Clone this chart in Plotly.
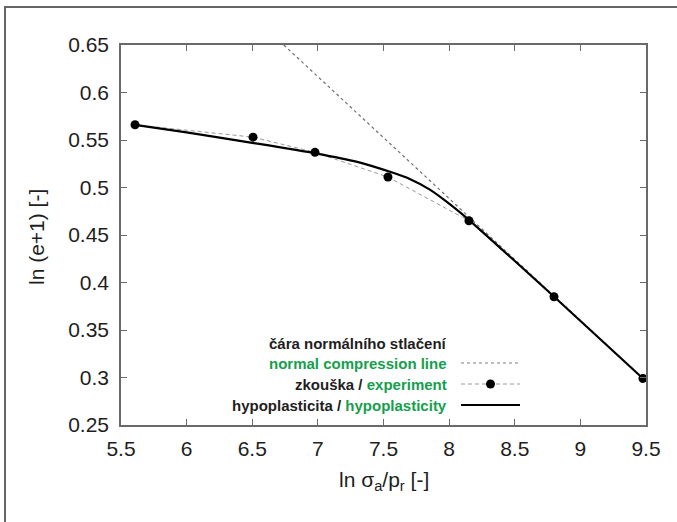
import plotly.graph_objects as go

# Oedometric test: ln(e+1) versus ln(sigma_a/p_r)
exp_x = [5.607, 6.506, 6.978, 7.534, 8.151, 8.799, 9.477]
exp_y = [0.566, 0.553, 0.537, 0.511, 0.465, 0.385, 0.299]

hypo_x = [5.607, 6.0, 6.5, 6.98, 7.3, 7.55, 7.7, 7.85, 8.0, 8.15, 8.8, 9.477]
hypo_y = [0.566, 0.558, 0.547, 0.536, 0.527, 0.5165, 0.509, 0.498, 0.483, 0.466, 0.385, 0.299]

ncl_x = [6.74, 9.5]
ncl_y = [0.65, 0.296]

x_ticks = [5.5, 6, 6.5, 7, 7.5, 8, 8.5, 9, 9.5]
y_ticks = [0.25, 0.3, 0.35, 0.4, 0.45, 0.5, 0.55, 0.6, 0.65]

GREEN = "#14a04c"
TXT = "#1e1e1e"
AX = "#6a6a6a"
FONT = "Liberation Sans, Arial, sans-serif"
EXP_DASH = "4px,3px"

fig = go.Figure()

fig.add_trace(go.Scatter(
    x=ncl_x, y=ncl_y, mode="lines",
    line=dict(color="#707070", width=1.2, dash="dot"),
    hoverinfo="skip", showlegend=False))

fig.add_trace(go.Scatter(
    x=exp_x, y=exp_y, mode="lines+markers",
    line=dict(color="#9a9a9a", width=1, dash=EXP_DASH),
    marker=dict(color="black", size=9),
    showlegend=False))

fig.add_trace(go.Scatter(
    x=hypo_x, y=hypo_y, mode="lines",
    line=dict(color="black", width=2.2, shape="spline", smoothing=0.6),
    showlegend=False))

axis_common = dict(
    showline=True, linecolor=AX, linewidth=1.5, mirror="ticks",
    ticks="inside", ticklen=6, tickcolor=AX, tickwidth=1.2,
    showgrid=False, zeroline=False,
    tickfont=dict(family=FONT, size=21, color=TXT),
)

fig.update_layout(
    width=677, height=522,
    margin=dict(l=121, r=31, t=45, b=97),
    paper_bgcolor="white", plot_bgcolor="white",
    xaxis=dict(range=[5.5, 9.5], tickvals=x_ticks,
               ticktext=[f"{v:g}" for v in x_ticks],
               ticklabelstandoff=4, **axis_common),
    yaxis=dict(range=[0.25, 0.65], tickvals=y_ticks,
               ticktext=[f"{v:g}" for v in y_ticks],
               ticklabelstandoff=6, **axis_common),
)


def px_x(px):
    return (px - 121) / 525


def px_y(py):
    return (425 - py) / 380


# axis titles
fig.add_annotation(xref="paper", yref="paper", x=px_x(384), y=px_y(481),
                   text="ln σ<sub>a</sub>/p<sub>r</sub> [-]", showarrow=False,
                   xanchor="center", yanchor="middle",
                   font=dict(family=FONT, size=21, color=TXT))
fig.add_annotation(xref="paper", yref="paper", x=px_x(36), y=px_y(237),
                   text="ln (e+1) [-]", showarrow=False, textangle=-90,
                   xanchor="center", yanchor="middle",
                   font=dict(family=FONT, size=21, color=TXT))

# outer frame
fig.add_shape(type="rect", xref="paper", yref="paper",
              x0=px_x(5), x1=1.2, y0=-0.4, y1=px_y(7),
              line=dict(color="#666666", width=2), layer="below")

# legend block
legend_rows = [
    ("<b>čára normálního stlačení</b>", 343, None),
    (f"<b><span style='color:{GREEN}'>normal compression line</span></b>", 363, "dot"),
    (f"<b>zkouška / <span style='color:{GREEN}'>experiment</span></b>", 384, "exp"),
    (f"<b>hypoplasticita / <span style='color:{GREEN}'>hypoplasticity</span></b>", 405, "solid"),
]

for text, py, kind in legend_rows:
    fig.add_annotation(xref="paper", yref="paper", x=px_x(449), y=px_y(py),
                       text=text, showarrow=False, xanchor="right", yanchor="middle",
                       font=dict(family=FONT, size=15, color=TXT))
    if kind == "dot":
        fig.add_shape(type="line", xref="paper", yref="paper",
                      x0=px_x(461), x1=px_x(520), y0=px_y(py), y1=px_y(py),
                      line=dict(color="#808080", width=1.2, dash="dot"))
    elif kind == "exp":
        fig.add_shape(type="line", xref="paper", yref="paper",
                      x0=px_x(461), x1=px_x(520), y0=px_y(py), y1=px_y(py),
                      line=dict(color="#9a9a9a", width=1, dash=EXP_DASH))
        fig.add_shape(type="circle", xref="paper", yref="paper",
                      x0=px_x(486), x1=px_x(495), y0=px_y(py + 4.5), y1=px_y(py - 4.5),
                      fillcolor="black", line=dict(color="black", width=0))
    elif kind == "solid":
        fig.add_shape(type="line", xref="paper", yref="paper",
                      x0=px_x(461), x1=px_x(520), y0=px_y(py), y1=px_y(py),
                      line=dict(color="black", width=2.2))

fig.write_html("out.html")
